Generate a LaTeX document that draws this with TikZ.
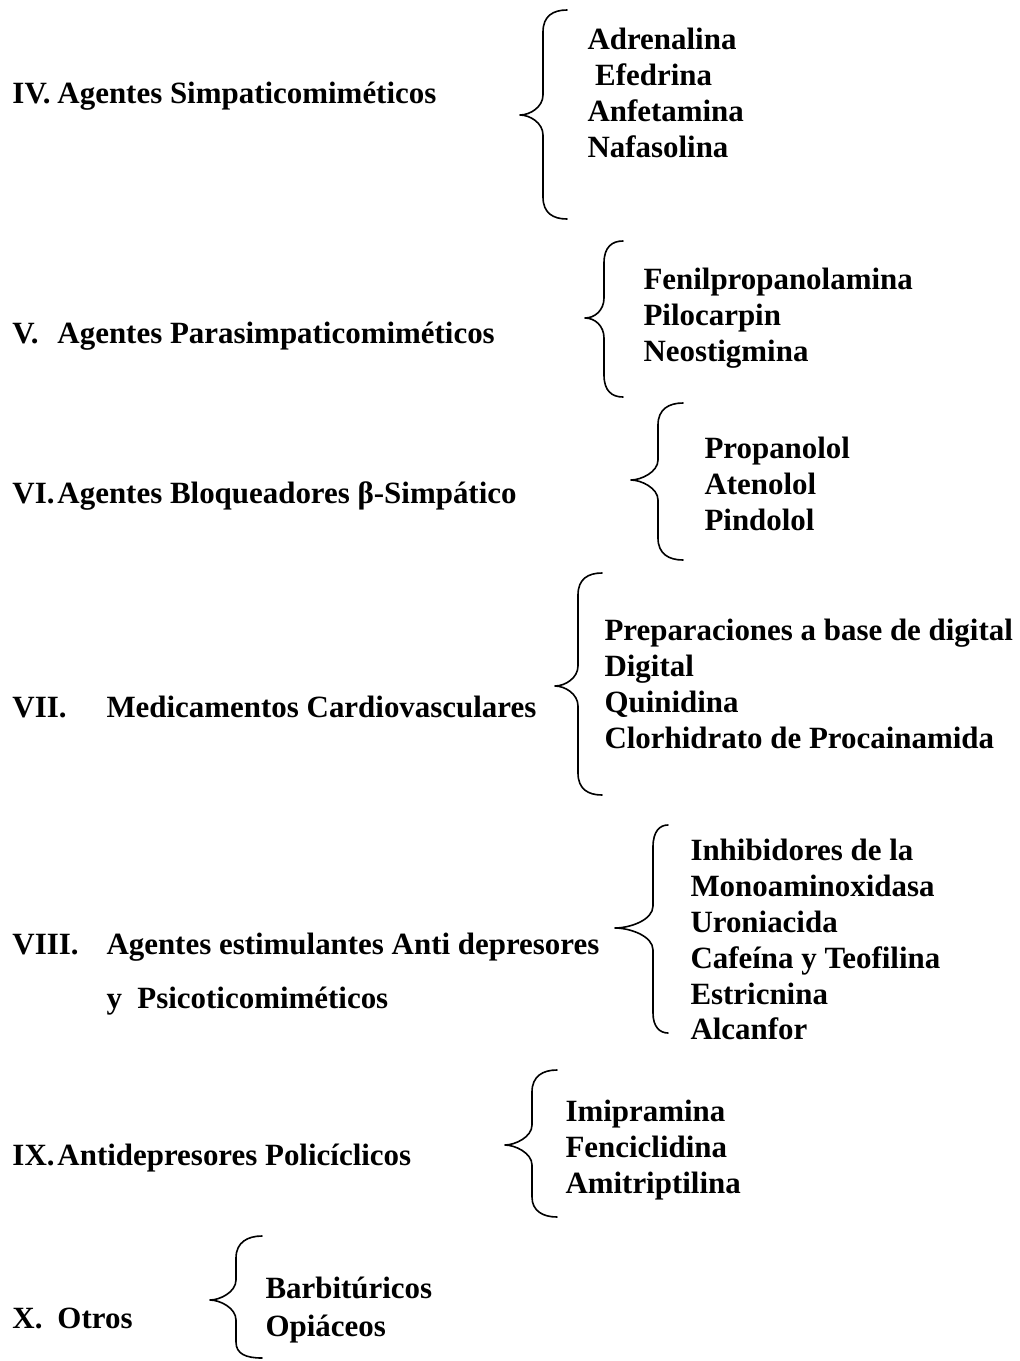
\documentclass[tikz,border=0pt]{standalone}
\usepackage{fontspec}
\setmainfont{Liberation Serif}

\tikzset{every picture/.style={line width=0.75pt}}
\tikzset{
  txt/.style={anchor=base west, inner sep=0pt, font=\bfseries\fontsize{23.2}{28}\selectfont},
  llave/.style={line width=1.2pt, line cap=round, line join=round}
}

\begin{document}
\begin{tikzpicture}[x=0.75pt,y=0.75pt,yscale=-1,xscale=1]
%set diagram left start at 0, and has height of 1361
\useasboundingbox (0,0) rectangle (1020,1361);

%Curve Lines [id:llave4]
\draw [llave] (567,10) .. controls (553,10) and (543,16) .. (543,32) -- (543,95) .. controls (543,107) and (530,115) .. (520,115) .. controls (530,115) and (543,123) .. (543,135) -- (543,197) .. controls (543,213) and (553,219) .. (567,219) ;
%Curve Lines [id:llave5]
\draw [llave] (623,241) .. controls (612,241) and (604,247) .. (604,263) -- (604,298) .. controls (604,310) and (595,318) .. (585,318) .. controls (595,318) and (604,326) .. (604,338) -- (604,375) .. controls (604,391) and (612,397) .. (623,397) ;
%Curve Lines [id:llave6]
\draw [llave] (683,403) .. controls (669,403) and (658,409) .. (658,425) -- (658,460) .. controls (658,472) and (641,480) .. (631,480) .. controls (641,480) and (658,488) .. (658,500) -- (658,538) .. controls (658,554) and (669,560) .. (683,560) ;
%Curve Lines [id:llave7]
\draw [llave] (602,573) .. controls (588,573) and (578,579) .. (578,595) -- (578,666) .. controls (578,678) and (565,686) .. (555,686) .. controls (565,686) and (578,694) .. (578,706) -- (578,773) .. controls (578,789) and (588,795) .. (602,795) ;
%Curve Lines [id:llave8]
\draw [llave] (668,825) .. controls (660,825) and (653,831) .. (653,847) -- (653,906) .. controls (653,920) and (630,928) .. (615,928) .. controls (630,928) and (653,936) .. (653,950) -- (653,1013) .. controls (653,1027) and (660,1033) .. (668,1033) ;
%Curve Lines [id:llave9]
\draw [llave] (557,1070) .. controls (543,1070) and (532,1076) .. (532,1092) -- (532,1125) .. controls (532,1137) and (515,1145) .. (505,1145) .. controls (515,1145) and (532,1153) .. (532,1165) -- (532,1197) .. controls (532,1211) and (543,1217) .. (557,1217) ;
%Curve Lines [id:llave10]
\draw [llave] (262,1236) .. controls (248,1236) and (236,1242) .. (236,1258) -- (236,1280) .. controls (236,1292) and (220,1300) .. (210,1300) .. controls (220,1300) and (236,1308) .. (236,1320) -- (236,1342) .. controls (236,1354) and (246,1358) .. (262,1358) ;

% Text Node
\draw (12,103) node [txt] (n4) {IV.};
\draw (57,103) node [txt] (t4) {Agentes Simpaticomiméticos};
\draw (587,49) node [txt] (adrenalina) {Adrenalina};
\draw (587,85) node [txt] (efedrina) {\ Efedrina};
\draw (587,121) node [txt] (anfetamina) {Anfetamina};
\draw (587,157) node [txt] (nafasolina) {Nafasolina};
% Text Node
\draw (12,343) node [txt] (n5) {V.};
\draw (57,343) node [txt] (t5) {Agentes Parasimpaticomiméticos};
\draw (643,289) node [txt] (fenilpropanolamina) {Fenilpropanolamina};
\draw (643,325) node [txt] (pilocarpin) {Pilocarpin};
\draw (643,361) node [txt] (neostigmina) {Neostigmina};
% Text Node
\draw (12,503) node [txt] (n6) {VI.};
\draw (57,503) node [txt] (t6) {Agentes Bloqueadores β-Simpático};
\draw (704,458) node [txt] (propanolol) {Propanolol};
\draw (704,494) node [txt] (atenolol) {Atenolol};
\draw (704,530) node [txt] (pindolol) {Pindolol};
% Text Node
\draw (12,717) node [txt] (n7) {VII.};
\draw (106,717) node [txt] (t7) {Medicamentos Cardiovasculares};
\draw (604,640) node [txt] (preparaciones) {Preparaciones a base de digital};
\draw (604,676) node [txt] (digital) {Digital};
\draw (604,712) node [txt] (quinidina) {Quinidina};
\draw (604,748) node [txt] (clorhidrato) {Clorhidrato de Procainamida};
% Text Node
\draw (12,954) node [txt] (n8) {VIII.};
\draw (106,954) node [txt] (t8) {Agentes estimulantes Anti depresores};
\draw (106,1008) node [txt] (t8b) {y\ \ Psicoticomiméticos};
\draw (690,860) node [txt] (inhibidores) {Inhibidores de la};
\draw (690,896) node [txt] (monoamino) {Monoaminoxidasa};
\draw (690,932) node [txt] (uroniacida) {Uroniacida};
\draw (690,968) node [txt] (cafeina) {Cafeína y Teofilina};
\draw (690,1004) node [txt] (estricnina) {Estricnina};
\draw (690,1039) node [txt] (alcanfor) {Alcanfor};
% Text Node
\draw (12,1165) node [txt] (n9) {IX.};
\draw (57,1165) node [txt] (t9) {Antidepresores Policíclicos};
\draw (565,1121) node [txt] (imipramina) {Imipramina};
\draw (565,1157) node [txt] (fenciclidina) {Fenciclidina};
\draw (565,1193) node [txt] (amitriptilina) {Amitriptilina};
% Text Node
\draw (12,1328) node [txt] (n10) {X.};
\draw (57,1328) node [txt] (t10) {Otros};
\draw (265,1298) node [txt] (barbituricos) {Barbitúricos};
\draw (265,1336) node [txt] (opiaceos) {Opiáceos};

\end{tikzpicture}
\end{document}
